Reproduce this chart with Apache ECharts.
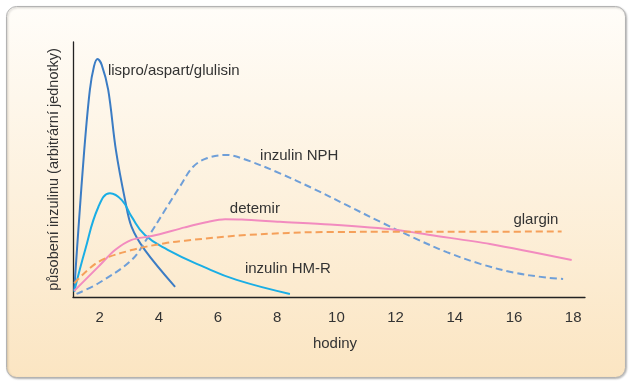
<!DOCTYPE html>
<html>
<head>
<meta charset="utf-8">
<script src="https://cdn.jsdelivr.net/npm/echarts@6/dist/echarts.min.js"></script>
<style>html,body{margin:0;padding:0;background:#fff}#c{width:635px;height:386px}</style>
</head>
<body>
<div id="c"></div>
<script>
// hours vs. arbitrary action units
var xTicks = [2, 4, 6, 8, 10, 12, 14, 16, 18];
var lispro = [[1.14,2.7],[1.30,29.4],[1.48,57.6],[1.67,81.2],[1.81,90.5],[1.93,93.3],[2.07,91.0],[2.29,81.2],[2.55,57.6],[2.86,38.0],[3.08,27.5],[3.53,18.4],[4.55,4.0]];
var hmr = [[1.14,2.1],[1.51,18.4],[1.96,35.4],[2.35,40.7],[2.75,38.0],[3.08,31.5],[3.53,24.3],[4.3,18.5],[5.50,11.9],[6.63,6.7],[8.43,1.2]];
var nph = [[1.22,1.2],[1.96,5.4],[3.08,14.5],[3.64,23.6],[4.21,34.1],[4.71,43.3],[5.16,51.1],[5.62,54.4],[6.29,55.7],[6.97,53.7],[8.09,48.5],[9.22,42.5],[10.35,36.0],[11.48,29.5],[12.6,23.3],[13.73,17.6],[14.86,13.0],[15.98,9.6],[17.1,7.6],[17.66,7.1]];
var detemir = [[1.14,2.4],[1.96,11.9],[2.52,18.4],[3.08,22.4],[3.76,23.9],[4.88,27.3],[5.6,29.3],[6.24,30.5],[6.8,30.4],[8.09,29.5],[9.78,28.4],[12.04,26.3],[13.17,24.3],[15.19,20.8],[17.95,14.5]];
var glargin = [[1.14,5.4],[1.96,13.8],[3.08,18.4],[4.21,21.1],[4.88,22.1],[6.97,24.3],[9.78,25.5],[15.19,25.6],[17.61,25.7]];
var names = ['lispro/aspart/glulisin','inzulin HM-R','inzulin NPH','detemir','glargin'];
var labelAt = [[2.28,88.6],[6.91,11.0],[7.42,55.4],[6.40,34.5],[15.98,30.2]];
var colors = ['#3b7cc4','#1aaee5','#6f9fd8','#f28bbf','#f5a05a'];
var dashed = [false,false,true,false,true];
var smooths = [0.35,0.45,0.35,0.3,0.35];
var datasets = [lispro, hmr, nph, detemir, glargin];

var font = '"Liberation Sans", Arial, sans-serif';
var fs = 15;
var chart = echarts.init(document.getElementById('c'));
var series = datasets.map(function(d, i){
  return {
    type:'line', name:names[i], data:d, smooth:smooths[i], symbol:'none', z: 3,
    lineStyle:{color:colors[i], width:2, type: dashed[i] ? [7,4] : 'solid'},
    markPoint:{
      symbol:'circle', symbolSize:0, silent:true,
      label:{show:true, position:'right', distance:0, formatter:names[i], color:'#333', fontSize:fs, fontFamily:font},
      data:[{coord:labelAt[i]}]
    }
  };
});
chart.setOption({
  animation:false,
  graphic:[{
    type:'rect', z:-10, silent:true,
    shape:{x:6.5,y:6.5,width:619,height:371,r:10},
    style:{
      fill:new echarts.graphic.LinearGradient(0,0,0,1,[{offset:0,color:'#fffdf9'},{offset:1,color:'#fbe5c2'}]),
      stroke:'#b3b3b3', lineWidth:1,
      shadowBlur:2, shadowOffsetX:1, shadowOffsetY:1, shadowColor:'rgba(0,0,0,0.25)'
    }
  }],
  grid:{left:73, right:635-585, top:42, bottom:386-297, containLabel:false},
  xAxis:{
    type:'value', min:1.1, max:18.4,
    name:'hodiny', nameLocation:'middle', nameGap:39,
    nameTextStyle:{color:'#333', fontSize:fs, fontFamily:font, padding:[0,0,0,12]},
    axisLine:{show:true, lineStyle:{color:'#222', width:1.3}},
    axisTick:{show:false},
    splitLine:{show:false},
    axisLabel:{customValues:xTicks, color:'#333', fontSize:fs, fontFamily:font, margin:13}
  },
  yAxis:{
    type:'value', min:0, max:100,
    name:'působení inzulinu (arbitrární jednotky)', nameLocation:'middle', nameGap:12,
    nameTextStyle:{color:'#333', fontSize:14.5, fontFamily:font},
    axisLine:{show:true, lineStyle:{color:'#222', width:1.3}},
    axisTick:{show:false}, axisLabel:{show:false}, splitLine:{show:false}
  },
  series:series
});
</script>
</body>
</html>
